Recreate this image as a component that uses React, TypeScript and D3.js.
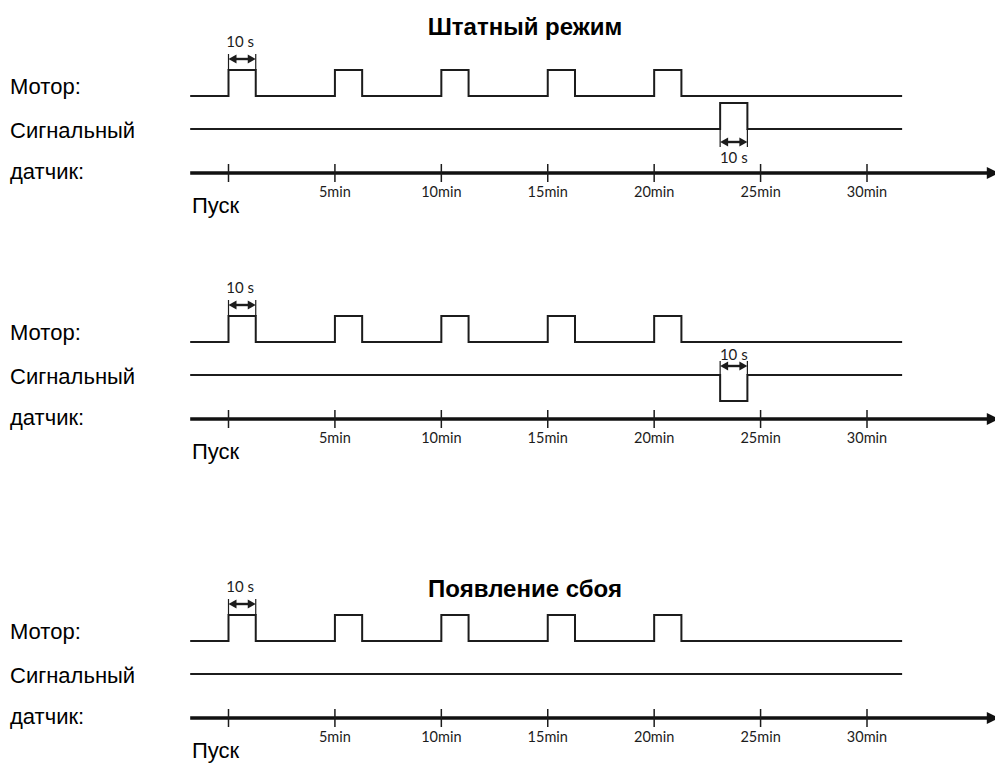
import React from "react";
import * as d3 from "d3";

// ---- data ----
const tickMinutes = [0, 5, 10, 15, 20, 25, 30];
const tickLabels = ["", "5min", "10min", "15min", "20min", "25min", "30min"];
const startLabel = "Пуск";
const rowLabels = ["Мотор:", "Сигнальный", "датчик:"];
const motorPulseStarts = [0, 5, 10, 15, 20]; // minutes
const pulseWidthMin = 1.28; // schematic width of a 10 s pulse
const pulseLabel = "10 s";
const lineStartMin = -1.8;
const lineEndMin = 31.65;
const axisEndMin = 36.1;

const panelTitles = ["Штатный режим", "", "Появление сбоя"];
// signal pulse per panel: start minute and direction (1 up, -1 down, 0 none)
const signalPulseStarts = [23.1, 23.1, null];
const signalPulseDirs = [1, -1, 0];

// ---- layout ----
const W = 995;
const H = 763;
const axisYs = [173, 419, 718];
const titleOffsets = [-138, 0, -121];

const x = d3.scaleLinear().domain([0, 30]).range([228.5, 867]);

const FONT_SANS = "'Liberation Sans', Arial, sans-serif";
const FONT_SMALL = "Lato, 'Open Sans', sans-serif";
const INK = "#1c1c1c";

function DoubleArrow({ x1, x2, y }: { x1: number; x2: number; y: number }) {
  const L = 8;
  const h = 4.5;
  return (
    <g>
      <line x1={x1 + L - 1} x2={x2 - L + 1} y1={y} y2={y} stroke={INK} strokeWidth={2.4} />
      <path d={`M${x1},${y} L${x1 + L},${y - h} L${x1 + L},${y + h} Z`} fill={INK} />
      <path d={`M${x2},${y} L${x2 - L},${y - h} L${x2 - L},${y + h} Z`} fill={INK} />
    </g>
  );
}

function Panel({ idx }: { idx: number }) {
  const ay = axisYs[idx];
  const motorY = d3.scaleLinear().domain([0, 1]).range([ay - 77, ay - 103]);
  const sigY = d3.scaleLinear().domain([-1, 0, 1]).range([ay - 18, ay - 44, ay - 70]);
  const line = d3.line<[number, number]>();

  const motorPts: [number, number][] = [[x(lineStartMin), motorY(0)]];
  motorPulseStarts.forEach((p) => {
    motorPts.push([x(p), motorY(0)], [x(p), motorY(1)], [x(p + pulseWidthMin), motorY(1)], [x(p + pulseWidthMin), motorY(0)]);
  });
  motorPts.push([x(lineEndMin), motorY(0)]);

  const sp = signalPulseStarts[idx];
  const dir = signalPulseDirs[idx];
  const sigPts: [number, number][] = [[x(lineStartMin), sigY(0)]];
  if (sp !== null && dir !== 0) {
    sigPts.push([x(sp), sigY(0)], [x(sp), sigY(dir)], [x(sp + pulseWidthMin), sigY(dir)], [x(sp + pulseWidthMin), sigY(0)]);
  }
  sigPts.push([x(lineEndMin), sigY(0)]);

  const m0 = motorPulseStarts[0];
  const mx1 = x(m0);
  const mx2 = x(m0 + pulseWidthMin);
  const arrowY = ay - 114;

  let sigMarker: React.ReactNode = null;
  if (sp !== null && dir !== 0) {
    const sx1 = x(sp);
    const sx2 = x(sp + pulseWidthMin);
    if (dir > 0) {
      const ayy = ay - 31;
      sigMarker = (
        <g>
          <line x1={sx1} x2={sx1} y1={sigY(0)} y2={ayy + 5} stroke={INK} strokeWidth={1.2} />
          <line x1={sx2} x2={sx2} y1={sigY(0)} y2={ayy + 5} stroke={INK} strokeWidth={1.2} />
          <DoubleArrow x1={sx1} x2={sx2} y={ayy} />
          <text x={(sx1 + sx2) / 2} y={ay - 10} textAnchor="middle" fontFamily={FONT_SMALL} fontSize={15} fill={INK}>{pulseLabel}</text>
        </g>
      );
    } else {
      const ayy = ay - 53;
      sigMarker = (
        <g>
          <line x1={sx1} x2={sx1} y1={sigY(0)} y2={ayy - 5} stroke={INK} strokeWidth={1.2} />
          <line x1={sx2} x2={sx2} y1={sigY(0)} y2={ayy - 5} stroke={INK} strokeWidth={1.2} />
          <DoubleArrow x1={sx1} x2={sx2} y={ayy} />
          <text x={(sx1 + sx2) / 2} y={ay - 59} textAnchor="middle" fontFamily={FONT_SMALL} fontSize={15} fill={INK}>{pulseLabel}</text>
        </g>
      );
    }
  }

  return (
    <g>
      {panelTitles[idx] && (
        <text x={525} y={ay + titleOffsets[idx]} textAnchor="middle" fontFamily={FONT_SANS} fontWeight="bold" fontSize={24} fill="#000">
          {panelTitles[idx]}
        </text>
      )}
      <text x={10} y={ay - 79} fontFamily={FONT_SANS} fontSize={22} fill="#000">{rowLabels[0]}</text>
      <text x={10} y={ay - 35} fontFamily={FONT_SANS} fontSize={22} fill="#000">{rowLabels[1]}</text>
      <text x={10} y={ay + 6} fontFamily={FONT_SANS} fontSize={22} fill="#000">{rowLabels[2]}</text>

      <path d={line(motorPts) || ""} fill="none" stroke={INK} strokeWidth={2} strokeLinejoin="miter" />
      <path d={line(sigPts) || ""} fill="none" stroke={INK} strokeWidth={2} strokeLinejoin="miter" />

      {/* 10 s marker on first motor pulse */}
      <line x1={mx1} x2={mx1} y1={motorY(1)} y2={arrowY - 5} stroke={INK} strokeWidth={1.2} />
      <line x1={mx2} x2={mx2} y1={motorY(1)} y2={arrowY - 5} stroke={INK} strokeWidth={1.2} />
      <DoubleArrow x1={mx1} x2={mx2} y={arrowY} />
      <text x={(mx1 + mx2) / 2 - 2} y={ay - 126} textAnchor="middle" fontFamily={FONT_SMALL} fontSize={15} fill={INK}>{pulseLabel}</text>

      {sigMarker}

      {/* time axis */}
      <line x1={x(lineStartMin)} x2={x(axisEndMin) - 8} y1={ay} y2={ay} stroke="#111" strokeWidth={3.5} />
      <path d={`M${x(axisEndMin) - 10},${ay - 6} L${x(axisEndMin) + 2},${ay} L${x(axisEndMin) - 10},${ay + 6} Z`} fill="#111" />
      {tickMinutes.map((t, i) => (
        <g key={t}>
          <line x1={x(t)} x2={x(t)} y1={ay - 9} y2={ay + 9} stroke={INK} strokeWidth={1.5} />
          {tickLabels[i] && (
            <text x={x(t)} y={ay + 24} textAnchor="middle" fontFamily={FONT_SMALL} fontSize={14.5} fill={INK}>
              {tickLabels[i]}
            </text>
          )}
        </g>
      ))}
      <text x={192} y={ay + 40} fontFamily={FONT_SANS} fontSize={22} fill="#000">{startLabel}</text>
    </g>
  );
}

export default function App() {
  return (
    <svg width={W} height={H} style={{ position: "absolute", left: 0, top: 0, background: "#fff" }}>
      <rect x={0} y={0} width={W} height={H} fill="#fff" />
      {[0, 1, 2].map((i) => (
        <Panel key={i} idx={i} />
      ))}
    </svg>
  );
}
